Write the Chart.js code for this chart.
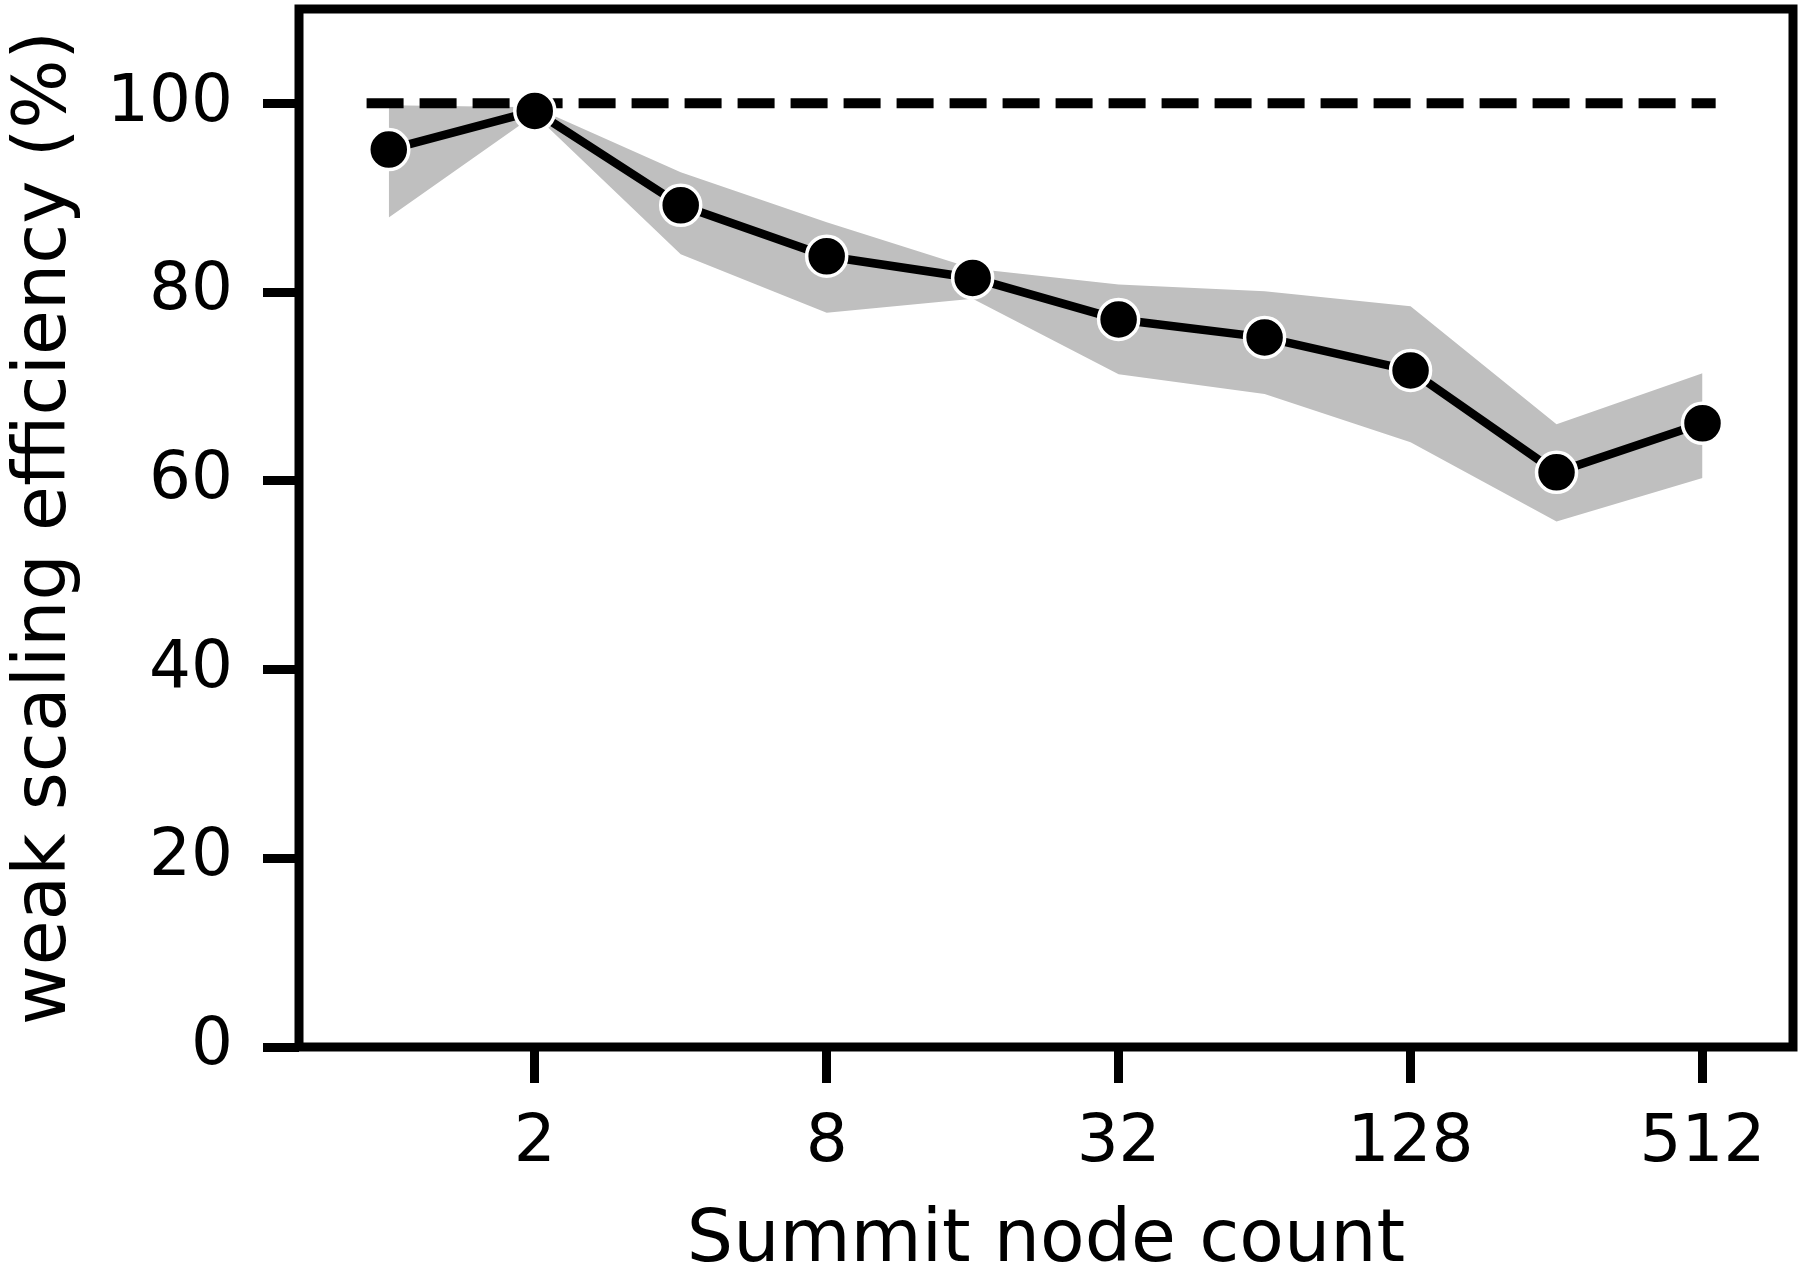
<!DOCTYPE html>
<html lang="en">
<head>
    <meta charset="UTF-8">
    <title>Weak scaling efficiency</title>
    <style>
        body {
            margin: 0;
            background-color: #fff;
        }
        .chart-box {
            width: 1800px;
            height: 1269px;
        }
    </style>
    <script src="https://cdn.jsdelivr.net/npm/chart.js"></script>
</head>
<body>
    <div class="chart-box">
        <canvas id="scalingChart" width="1800" height="1269"></canvas>
    </div>

    <script>
        // node counts (x) and measured efficiency (%)
        const nodes = [1, 2, 4, 8, 16, 32, 64, 128, 256, 512];
        const efficiency = [95.1, 99.2, 89.2, 83.8, 81.5, 77.1, 75.2, 71.7, 60.9, 66.1];
        // spread band around the measured curve
        const bandUpper = [99.8, 99.6, 92.7, 87.4, 82.5, 80.8, 80.1, 78.5, 66.0, 71.4];
        const bandLower = [87.9, 98.8, 84.0, 77.8, 79.3, 71.3, 69.2, 64.1, 55.7, 60.3];
        // ideal 100% reference line
        const idealX = [0.9, 545];
        const idealY = [100, 100];
        // tick labels
        const xTicks = [2, 8, 32, 128, 512];
        const yTicks = [0, 20, 40, 60, 80, 100];

        const FONT = "'DejaVu Sans', sans-serif";

        const toPoints = (xs, ys) => xs.map((x, i) => ({ x: x, y: ys[i] }));

        // no extra room for edge labels, the plot box is placed by hand
        const noPadding = (axis) => {
            axis.paddingTop = 0;
            axis.paddingBottom = 0;
            axis.paddingLeft = 0;
            axis.paddingRight = 0;
        };

        // draws the full box around the plot area
        const frame = {
            id: 'frame',
            afterDraw(chart) {
                const a = chart.chartArea;
                const ctx = chart.ctx;
                ctx.save();
                ctx.strokeStyle = '#000';
                ctx.lineWidth = 9;
                ctx.strokeRect(a.left, a.top, a.right - a.left, a.bottom - a.top);
                ctx.restore();
            }
        };

        const ctx = document.getElementById('scalingChart').getContext('2d');
        const scalingChart = new Chart(ctx, {
            type: 'line',
            data: {
                datasets: [
                    {
                        label: 'upper',
                        data: toPoints(nodes, bandUpper),
                        borderWidth: 0,
                        pointRadius: 0,
                        backgroundColor: '#bfbfbf',
                        fill: '+1',
                        order: 3
                    },
                    {
                        label: 'lower',
                        data: toPoints(nodes, bandLower),
                        borderWidth: 0,
                        pointRadius: 0,
                        fill: false,
                        order: 3
                    },
                    {
                        label: 'ideal',
                        data: toPoints(idealX, idealY),
                        borderColor: '#000',
                        borderWidth: 10,
                        borderDash: [37, 16],
                        pointRadius: 0,
                        fill: false,
                        order: 2
                    },
                    {
                        label: 'efficiency',
                        data: toPoints(nodes, efficiency),
                        borderColor: '#000',
                        borderWidth: 8.5,
                        pointRadius: 20,
                        pointBackgroundColor: '#000',
                        pointBorderColor: '#fff',
                        pointBorderWidth: 3.5,
                        fill: false,
                        order: 1
                    }
                ]
            },
            options: {
                responsive: false,
                animation: false,
                events: [],
                layout: {
                    autoPadding: false,
                    padding: { left: 0, top: 9, right: 7, bottom: 0 }
                },
                plugins: {
                    legend: { display: false },
                    tooltip: { enabled: false }
                },
                scales: {
                    x: {
                        type: 'logarithmic',
                        min: Math.pow(2, -0.615),
                        max: Math.pow(2, 9.62),
                        afterBuildTicks: (axis) => {
                            axis.ticks = xTicks.map(v => ({ value: v }));
                        },
                        afterFit: (axis) => {
                            axis.height = 222;
                            noPadding(axis);
                        },
                        border: { display: false },
                        grid: {
                            drawOnChartArea: false,
                            drawTicks: true,
                            tickLength: 36,
                            tickWidth: 9,
                            tickColor: '#000'
                        },
                        ticks: {
                            autoSkip: false,
                            maxRotation: 0,
                            padding: 28,
                            color: '#000',
                            font: { family: FONT, size: 66, lineHeight: 1 },
                            callback: (v) => String(v)
                        },
                        title: {
                            display: true,
                            text: 'Summit node count',
                            color: '#000',
                            padding: 0,
                            font: { family: FONT, size: 73, lineHeight: 0.75 }
                        }
                    },
                    y: {
                        min: 0,
                        max: 110,
                        afterBuildTicks: (axis) => {
                            axis.ticks = yTicks.map(v => ({ value: v }));
                        },
                        afterFit: (axis) => {
                            axis.width = 299;
                            noPadding(axis);
                        },
                        border: { display: false },
                        grid: {
                            drawOnChartArea: false,
                            drawTicks: true,
                            tickLength: 36,
                            tickWidth: 9,
                            tickColor: '#000'
                        },
                        ticks: {
                            padding: 30,
                            color: '#000',
                            font: { family: FONT, size: 66, lineHeight: 1 }
                        },
                        title: {
                            display: true,
                            text: 'weak scaling efficiency (%)',
                            color: '#000',
                            padding: 0,
                            font: { family: FONT, size: 73, lineHeight: 1.25 }
                        }
                    }
                }
            },
            plugins: [frame]
        });
    </script>
</body>
</html>
